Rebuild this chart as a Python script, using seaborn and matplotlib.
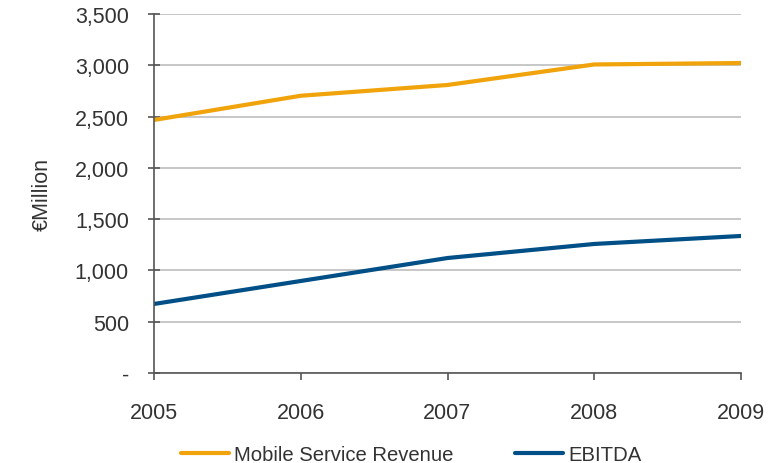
import matplotlib
matplotlib.use("Agg")
import matplotlib.pyplot as plt
import seaborn as sns
import pandas as pd
from matplotlib.ticker import FuncFormatter

years = [2005, 2006, 2007, 2008, 2009]
revenue = [2467, 2703, 2808, 3008, 3022]
ebitda = [673, 897, 1121, 1258, 1336]
series_names = ["Mobile Service Revenue", "EBITDA"]
colors = ["#F0A30A", "#004F86"]
y_ticks = [0, 500, 1000, 1500, 2000, 2500, 3000, 3500]

df = pd.DataFrame({
    "Year": years * 2,
    "Value": revenue + ebitda,
    "Series": [series_names[0]] * len(years) + [series_names[1]] * len(years),
})

sns.set_theme(style="white")
plt.rcParams["font.family"] = ["Liberation Sans", "DejaVu Sans"]

fig = plt.figure(figsize=(7.77, 4.64), dpi=100)
ax = fig.add_axes([154/777, 1-374/464, (741-154)/777, (374-15)/464])

sns.lineplot(data=df, x="Year", y="Value", hue="Series", palette=colors,
             linewidth=3, ax=ax, legend=False)

ax.set_xlim(2005, 2009)
ax.set_ylim(0, 3500)
ax.set_xticks(years)
ax.set_yticks(y_ticks)
ax.yaxis.set_major_formatter(FuncFormatter(lambda v, p: "-" if v == 0 else f"{int(v):,}"))
ax.set_xlabel("")
ax.set_ylabel("€Million", fontsize=15.5, color="#333333", labelpad=16)

ax.grid(axis="y", color="#BDBDBD", linewidth=1.2)
ax.set_axisbelow(True)
for s in ["top", "right"]:
    ax.spines[s].set_visible(False)
ax.spines["left"].set_color("#555555")
ax.spines["bottom"].set_color("#555555")
ax.spines["left"].set_linewidth(1.2)
ax.spines["bottom"].set_linewidth(1.2)
ax.tick_params(axis="y", direction="inout", length=8, width=1.2, color="#555555",
               labelsize=15.5, labelcolor="#333333", pad=14, left=True)
ax.tick_params(axis="x", direction="out", length=5, width=1.2, color="#555555",
               labelsize=15.5, labelcolor="#333333", pad=16, bottom=True)

handles = [plt.Line2D([], [], color=c, linewidth=3) for c in colors]
fig.legend(handles, series_names, loc="center", bbox_to_anchor=(0.529, 0.018),
           ncol=2, frameon=False, fontsize=14.6, handlelength=2.4, handletextpad=0.25,
           columnspacing=3.0, labelcolor="#333333")

fig.savefig("out.png", dpi=100)
